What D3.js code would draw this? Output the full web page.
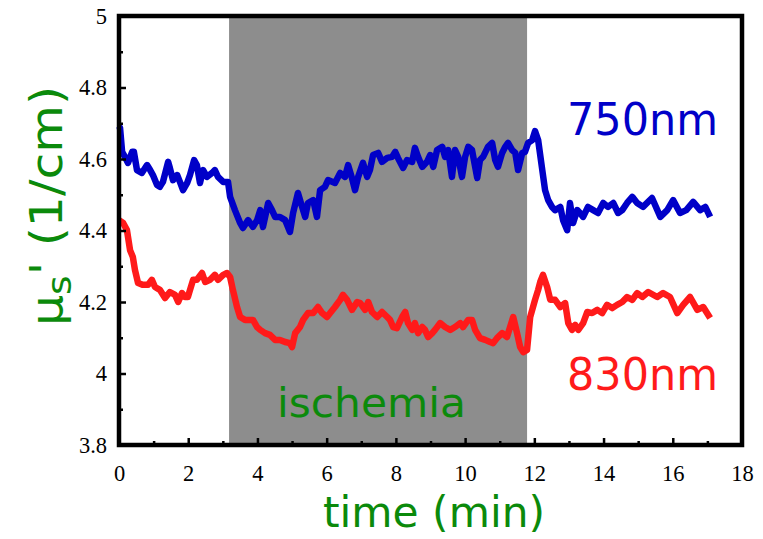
<!DOCTYPE html>
<html>
<head>
<meta charset="utf-8">
<script src="https://cdn.jsdelivr.net/npm/d3@7"></script>
<style>
  html, body { margin: 0; padding: 0; background: #fff; }
  svg { display: block; }
</style>
</head>
<body>
<svg id="chart" width="763" height="539"></svg>
<script>
// Reduced scattering coefficient at two wavelengths over time (min)
const blueTime = [0.00,0.03,0.09,0.17,0.26,0.38,0.43,0.52,0.66,0.81,0.90,0.98,1.10,1.18,1.27,1.42,1.47,1.56,1.68,1.76,1.85,1.97,2.05,2.17,2.25,2.34,2.43,2.54,2.69,2.77,2.86,3.01,3.15,3.21,3.35,3.50,3.58,3.73,3.87,3.99,4.08,4.16,4.31,4.42,4.51,4.65,4.80,4.94,5.03,5.17,5.29,5.38,5.46,5.61,5.72,5.81,5.95,6.04,6.24,6.39,6.53,6.62,6.73,6.82,6.91,7.05,7.17,7.25,7.34,7.49,7.60,7.75,7.89,7.98,8.06,8.21,8.32,8.47,8.55,8.64,8.76,8.90,8.99,9.08,9.19,9.34,9.42,9.51,9.62,9.71,9.80,9.91,10.00,10.09,10.20,10.35,10.43,10.52,10.66,10.78,10.87,10.95,11.07,11.16,11.24,11.36,11.45,11.53,11.65,11.73,11.82,11.94,12.02,12.11,12.23,12.31,12.40,12.51,12.60,12.75,12.83,12.95,13.03,13.12,13.24,13.32,13.41,13.55,13.70,13.84,13.99,14.13,14.28,14.42,14.54,14.68,14.83,14.97,15.14,15.40,15.64,15.84,16.01,16.21,16.39,16.59,16.79,16.94,17.08];
const blueValue = [4.692,4.687,4.620,4.606,4.589,4.620,4.620,4.569,4.561,4.583,4.569,4.555,4.527,4.522,4.536,4.592,4.575,4.541,4.555,4.536,4.513,4.533,4.555,4.597,4.583,4.533,4.569,4.550,4.561,4.569,4.550,4.536,4.536,4.494,4.457,4.421,4.407,4.429,4.410,4.429,4.457,4.410,4.477,4.457,4.438,4.438,4.429,4.396,4.449,4.505,4.466,4.438,4.477,4.485,4.438,4.513,4.522,4.541,4.533,4.561,4.550,4.583,4.547,4.513,4.550,4.589,4.550,4.569,4.611,4.617,4.592,4.603,4.606,4.620,4.603,4.575,4.597,4.592,4.631,4.606,4.578,4.592,4.611,4.578,4.625,4.634,4.606,4.625,4.550,4.625,4.606,4.550,4.606,4.634,4.625,4.547,4.597,4.606,4.634,4.645,4.597,4.578,4.617,4.634,4.645,4.625,4.617,4.569,4.617,4.620,4.645,4.653,4.678,4.653,4.569,4.513,4.485,4.466,4.457,4.466,4.429,4.401,4.477,4.421,4.457,4.449,4.438,4.466,4.457,4.449,4.477,4.466,4.477,4.449,4.457,4.477,4.494,4.477,4.466,4.491,4.438,4.457,4.485,4.449,4.457,4.480,4.457,4.466,4.438];

const redTime = [0.00,0.12,0.23,0.32,0.40,0.46,0.55,0.69,0.84,0.95,1.04,1.18,1.33,1.47,1.62,1.71,1.82,1.91,1.99,2.14,2.25,2.40,2.49,2.63,2.77,2.86,3.01,3.12,3.21,3.29,3.41,3.50,3.64,3.73,3.87,3.99,4.08,4.22,4.36,4.51,4.65,4.80,4.94,5.00,5.09,5.23,5.32,5.46,5.61,5.75,5.87,6.01,6.10,6.24,6.39,6.47,6.59,6.73,6.88,6.97,7.11,7.20,7.31,7.46,7.60,7.75,7.83,7.92,8.03,8.18,8.27,8.35,8.47,8.55,8.64,8.76,8.84,8.93,9.05,9.13,9.28,9.42,9.57,9.71,9.86,9.94,10.09,10.20,10.29,10.43,10.58,10.72,10.81,10.92,11.07,11.21,11.30,11.39,11.50,11.59,11.68,11.79,11.88,12.02,12.11,12.17,12.25,12.37,12.46,12.60,12.75,12.89,12.98,13.09,13.18,13.27,13.41,13.53,13.67,13.82,13.96,14.10,14.25,14.39,14.54,14.68,14.83,14.97,15.12,15.29,15.55,15.72,15.92,16.13,16.30,16.50,16.71,16.88,17.08];
const redValue = [4.429,4.421,4.401,4.345,4.326,4.290,4.253,4.248,4.248,4.262,4.242,4.234,4.211,4.228,4.220,4.200,4.225,4.214,4.214,4.262,4.262,4.281,4.256,4.262,4.276,4.262,4.276,4.281,4.270,4.234,4.186,4.158,4.150,4.150,4.150,4.130,4.122,4.113,4.108,4.094,4.094,4.088,4.085,4.074,4.113,4.130,4.150,4.169,4.169,4.186,4.169,4.158,4.169,4.186,4.206,4.220,4.206,4.178,4.200,4.197,4.178,4.200,4.172,4.158,4.172,4.158,4.150,4.130,4.127,4.158,4.172,4.141,4.122,4.141,4.113,4.130,4.122,4.102,4.113,4.122,4.141,4.130,4.122,4.130,4.141,4.130,4.150,4.150,4.122,4.099,4.094,4.088,4.085,4.099,4.113,4.102,4.130,4.158,4.113,4.074,4.060,4.066,4.158,4.206,4.234,4.256,4.276,4.242,4.206,4.206,4.186,4.197,4.141,4.122,4.136,4.122,4.141,4.172,4.169,4.178,4.169,4.192,4.183,4.192,4.200,4.214,4.206,4.225,4.214,4.228,4.214,4.225,4.214,4.169,4.192,4.214,4.178,4.186,4.155];

// Ischemia interval (min)
const ischemiaInterval = [3.18, 11.79];

// Axis ticks
const xMajorTicks = [0, 2, 4, 6, 8, 10, 12, 14, 16, 18];
const xMinorTicks = [1, 3, 5, 7, 9, 11, 13, 15, 17];
const yMajorTicks = [3.8, 4, 4.2, 4.4, 4.6, 4.8, 5];
const yMinorTicks = [3.9, 4.1, 4.3, 4.5, 4.7, 4.9];
const yTickLabels = ["3.8", "4", "4.2", "4.4", "4.6", "4.8", "5"];

const svg = d3.select("#chart");
const plotLeft = 119, plotRight = 742, plotTop = 16, plotBottom = 445;

const x = d3.scaleLinear().domain([0, 18]).range([plotLeft, plotRight]);
const y = d3.scaleLinear().domain([3.8, 5]).range([plotBottom, plotTop]);

const GREEN = "#0b8a0b";
const BLUE = "#0000c8";
const RED = "#ff1a1a";
const labelFont = "'DejaVu Sans', 'Noto Sans', sans-serif";
const tickFont = "'Liberation Serif', 'DejaVu Serif', serif";

// shaded ischemia band
svg.append("rect")
  .attr("x", x(ischemiaInterval[0]))
  .attr("y", plotTop)
  .attr("width", x(ischemiaInterval[1]) - x(ischemiaInterval[0]))
  .attr("height", plotBottom - plotTop)
  .attr("fill", "#8d8d8d");

svg.append("text")
  .attr("x", 277).attr("y", 417)
  .attr("font-family", labelFont)
  .attr("font-size", 40)
  .attr("textLength", 189)
  .attr("lengthAdjust", "spacingAndGlyphs")
  .attr("fill", GREEN)
  .text("ischemia");

// series lines
const line = d3.line()
  .x(d => x(d[0]))
  .y(d => y(d[1]));

const blueData = blueTime.map((t, i) => [t, blueValue[i]]);
const redData = redTime.map((t, i) => [t, redValue[i]]);

svg.append("path")
  .datum(blueData)
  .attr("d", line)
  .attr("fill", "none")
  .attr("stroke", BLUE)
  .attr("stroke-width", 6.5)
  .attr("stroke-linejoin", "round");

svg.append("path")
  .datum(redData)
  .attr("d", line)
  .attr("fill", "none")
  .attr("stroke", RED)
  .attr("stroke-width", 6.5)
  .attr("stroke-linejoin", "round");

// axes with inward ticks
const xAxisMajor = d3.axisBottom(x).tickValues(xMajorTicks).tickSize(-7).tickPadding(20).tickFormat(d3.format("d"));
const xAxisMinor = d3.axisBottom(x).tickValues(xMinorTicks).tickSize(-4).tickFormat("");
const yAxisMajor = d3.axisLeft(y).tickValues(yMajorTicks).tickSize(-7).tickPadding(12)
  .tickFormat((d, i) => yTickLabels[i]);
const yAxisMinor = d3.axisLeft(y).tickValues(yMinorTicks).tickSize(-4).tickFormat("");

function styleAxis(g) {
  g.attr("font-family", tickFont).attr("font-size", 22.5);
  g.select(".domain").remove();
  g.selectAll(".tick line").attr("stroke", "#000").attr("stroke-width", 2.5);
  g.selectAll(".tick text")
    .style("font-family", tickFont)
    .style("font-size", "22.5px")
    .attr("fill", "#000");
}

svg.append("g").attr("transform", `translate(0,${plotBottom})`).call(xAxisMajor).call(styleAxis);
svg.append("g").attr("transform", `translate(0,${plotBottom})`).call(xAxisMinor).call(styleAxis);
svg.append("g").attr("transform", `translate(${plotLeft},0)`).call(yAxisMajor).call(styleAxis);
svg.append("g").attr("transform", `translate(${plotLeft},0)`).call(yAxisMinor).call(styleAxis);

// frame
svg.append("rect")
  .attr("x", plotLeft).attr("y", plotTop)
  .attr("width", plotRight - plotLeft).attr("height", plotBottom - plotTop)
  .attr("fill", "none")
  .attr("stroke", "#000")
  .attr("stroke-width", 4.5);

// series labels
svg.append("text")
  .attr("x", 567).attr("y", 135)
  .attr("font-family", labelFont).attr("font-size", 44)
  .attr("textLength", 151).attr("lengthAdjust", "spacingAndGlyphs")
  .attr("fill", BLUE)
  .text("750nm");

svg.append("text")
  .attr("x", 567).attr("y", 390)
  .attr("font-family", labelFont).attr("font-size", 44)
  .attr("textLength", 151).attr("lengthAdjust", "spacingAndGlyphs")
  .attr("fill", RED)
  .text("830nm");

// axis titles
svg.append("text")
  .attr("x", 323).attr("y", 527)
  .attr("font-family", labelFont).attr("font-size", 42)
  .attr("textLength", 222).attr("lengthAdjust", "spacingAndGlyphs")
  .attr("fill", GREEN)
  .text("time (min)");

const yTitle = svg.append("text")
  .attr("transform", "translate(62,326) rotate(-90)")
  .attr("font-family", labelFont).attr("font-size", 44)
  .attr("textLength", 240).attr("lengthAdjust", "spacingAndGlyphs")
  .attr("fill", GREEN);
yTitle.append("tspan").text("μ");
yTitle.append("tspan").attr("dy", 9).attr("font-size", 34).text("s");
yTitle.append("tspan").attr("dy", -9).text("'");
yTitle.append("tspan").text(" (1/cm)");
</script>
</body>
</html>
